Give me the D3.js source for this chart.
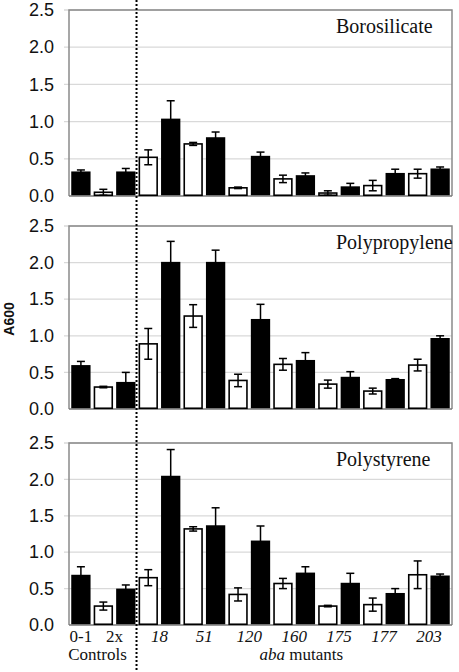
<!DOCTYPE html>
<html><head><meta charset="utf-8">
<script src="https://cdn.jsdelivr.net/npm/d3@7"></script>
<style>body{margin:0;background:#fff}svg{display:block}</style>
</head><body>
<script>
// ---- data ----
const barGroups = ["0-1","2x","2x","18","18","51","51","120","120","160","160","175","175","177","177","203","203"];
const barFills  = ["black","white","black","white","black","white","black","white","black","white","black","white","black","white","black","white","black"];
const groupLabels = ["0-1","2x","18","51","120","160","175","177","203"];
const italicLabels = ["18","51","120","160","175","177","203"];
const yTicks = [0,0.5,1.0,1.5,2.0,2.5];
const panelTitles = ["Borosilicate","Polypropylene","Polystyrene"];
const borosilicate    = [0.33,0.05,0.33,0.52,1.04,0.70,0.79,0.11,0.54,0.23,0.28,0.04,0.13,0.14,0.31,0.30,0.37];
const borosilicateErr = [0.02,0.04,0.04,0.10,0.24,0.02,0.07,0.01,0.05,0.05,0.03,0.03,0.04,0.07,0.05,0.06,0.02];
const polypropylene    = [0.60,0.30,0.37,0.89,2.01,1.27,2.01,0.39,1.23,0.61,0.67,0.34,0.44,0.245,0.41,0.60,0.97];
const polypropyleneErr = [0.05,0.01,0.13,0.21,0.28,0.155,0.16,0.085,0.20,0.08,0.10,0.055,0.07,0.04,0.005,0.08,0.03];
const polystyrene    = [0.69,0.26,0.50,0.65,2.05,1.32,1.37,0.42,1.16,0.57,0.72,0.26,0.58,0.28,0.44,0.69,0.68];
const polystyreneErr = [0.11,0.055,0.05,0.11,0.36,0.03,0.24,0.09,0.20,0.07,0.08,0.01,0.13,0.09,0.06,0.19,0.02];
const panelValues = [borosilicate, polypropylene, polystyrene];
const panelErrors = [borosilicateErr, polypropyleneErr, polystyreneErr];

// ---- layout ----
const W = 459, H = 672;
const left = 69, right = 452;
const panels = [{top:10,bottom:196},{top:226,bottom:409},{top:443,bottom:625}];
const sans = "'Liberation Sans', Arial, sans-serif";
const serif = "'Liberation Serif', 'Times New Roman', serif";

const svg = d3.select("body").append("svg").attr("width",W).attr("height",H);

const x = d3.scaleBand().domain(d3.range(barGroups.length)).range([left,right]).paddingInner(0.14).paddingOuter(0.1);
const bw = x.bandwidth();

panels.forEach((p,pi) => {
  const y = d3.scaleLinear().domain([0,2.5]).range([p.bottom,p.top]);
  const g = svg.append("g");
  // gridlines
  g.selectAll("line.grid").data(yTicks.slice(1)).join("line")
    .attr("x1",left-5).attr("x2",right).attr("y1",d=>y(d)).attr("y2",d=>y(d))
    .attr("stroke","#d9d9d9").attr("stroke-width",1.3);
  // y axis labels
  const ax = g.append("g").attr("transform",`translate(${left},0)`)
    .call(d3.axisLeft(y).tickValues(yTicks).tickFormat(d3.format(".1f")).tickSize(0).tickPadding(15));
  ax.select(".domain").remove();
  ax.selectAll("text").attr("font-family",sans).attr("font-size",18).attr("fill","#111");
  // frame
  g.append("path").attr("d",`M${left},${p.bottom}V${p.top}H${right}V${p.bottom}`)
    .attr("fill","none").attr("stroke","#8a8a8a").attr("stroke-width",1.5);
  g.append("line").attr("x1",left).attr("x2",right).attr("y1",p.bottom).attr("y2",p.bottom)
    .attr("stroke","#777").attr("stroke-width",1.5);
  // bars
  const vals = panelValues[pi], errs = panelErrors[pi];
  const items = vals.map((v,i)=>({v, e:errs[i], i, fill:barFills[i]}));
  g.selectAll("rect.bar").data(items).join("rect")
    .attr("x",o=>x(o.i)+(o.fill==="white"?0.75:0))
    .attr("width",o=>bw-(o.fill==="white"?1.5:0))
    .attr("y",o=>y(o.v)).attr("height",o=>p.bottom - y(o.v) - 0.75)
    .attr("fill",o=>o.fill).attr("stroke","black")
    .attr("stroke-width",o=>o.fill==="white"?1.6:0);
  // error bars
  g.selectAll("line.stem").data(items).join("line")
    .attr("x1",o=>x(o.i)+bw/2).attr("x2",o=>x(o.i)+bw/2)
    .attr("y1",o=>y(o.v+o.e)).attr("y2",o=>y(Math.max(0,o.v-o.e)))
    .attr("stroke","black").attr("stroke-width",1.5);
  g.selectAll("line.ucap").data(items).join("line")
    .attr("x1",o=>x(o.i)+bw/2-4).attr("x2",o=>x(o.i)+bw/2+4)
    .attr("y1",o=>y(o.v+o.e)).attr("y2",o=>y(o.v+o.e))
    .attr("stroke","black").attr("stroke-width",1.5);
  g.selectAll("line.lcap").data(items.filter(o=>o.fill==="white")).join("line")
    .attr("x1",o=>x(o.i)+bw/2-4).attr("x2",o=>x(o.i)+bw/2+4)
    .attr("y1",o=>y(o.v-o.e)).attr("y2",o=>y(o.v-o.e))
    .attr("stroke","black").attr("stroke-width",1.5);
  // title
  g.append("text").attr("x",336).attr("y",p.top+23).text(panelTitles[pi])
    .attr("font-family",serif).attr("font-size",20).attr("fill","#111");
});

// dotted separator
const sepX = x(3) - x.step()*x.paddingInner()/2 - 0.5;
svg.append("line").attr("x1",sepX).attr("x2",sepX).attr("y1",0).attr("y2",H)
  .attr("stroke","black").attr("stroke-width",2).attr("stroke-dasharray","2,2");

// group labels
groupLabels.forEach(lbl => {
  const idx = barGroups.map((g,i)=>g===lbl?i:-1).filter(i=>i>=0);
  const cx = (x(idx[0]) + x(idx[idx.length-1]) + bw)/2;
  svg.append("text").attr("x",cx).attr("y",642).attr("text-anchor","middle")
    .attr("font-family",serif).attr("font-size",17).attr("fill","#111")
    .attr("font-style",italicLabels.includes(lbl)?"italic":"normal").text(lbl);
});
svg.append("text").attr("x",x(0)-3).attr("y",660).attr("font-family",serif).attr("font-size",17).attr("fill","#111").text("Controls");
const mut = svg.append("text").attr("x",(x(3)+right)/2+6).attr("y",660).attr("text-anchor","middle")
  .attr("font-family",serif).attr("font-size",17).attr("fill","#111");
mut.append("tspan").attr("font-style","italic").text("aba");
mut.append("tspan").text(" mutants");

// y label
svg.append("text").attr("transform","translate(14,319) rotate(-90)").attr("text-anchor","middle")
  .attr("font-family",sans).attr("font-weight","bold").attr("font-size",14).attr("fill","#111").text("A600");
</script>
</body></html>
